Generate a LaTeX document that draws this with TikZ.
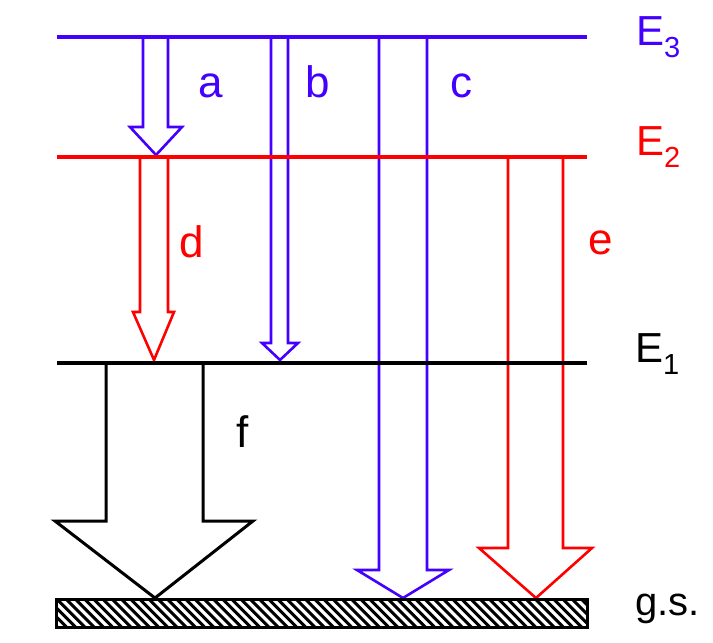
\documentclass[tikz,border=0pt]{standalone}
\usepackage{fontspec}
\setmainfont{Liberation Sans}
\definecolor{lvblue}{RGB}{68,0,255}
\definecolor{lvred}{RGB}{255,0,0}
\newcommand{\Elab}[1]{E\raisebox{-12pt}{\fontsize{29}{29}\selectfont #1}}
\tikzset{
  level/.style={line width=4.5pt},
  blockarrow/.style={line width=2.6pt, line join=miter, fill=white},
  hatchline/.style={line width=3pt},
  lbl/.style={inner sep=0pt, anchor=base west, font=\fontsize{44}{44}\selectfont},
  elbl/.style={inner sep=0pt, anchor=base west, font=\fontsize{42}{42}\selectfont},
  gslbl/.style={inner sep=0pt, anchor=base west, font=\fontsize{40}{40}\selectfont},
}
\begin{document}
\begin{tikzpicture}[x=1pt,y=-1pt]
\useasboundingbox (0,0) rectangle (713,643);
% coordinates of levels
\coordinate (e3l) at (57,37);  \coordinate (e3r) at (587,37);
\coordinate (e2l) at (57,157); \coordinate (e2r) at (587,157);
\coordinate (e1l) at (57,363); \coordinate (e1r) at (587,363);
% block arrows
\draw[blockarrow, draw=lvblue] (143,37) -- (143,127) -- (130,127) -- (156,155) -- (182,127) -- (168,127) -- (168,37);
\draw[blockarrow, draw=lvblue] (271,37) -- (271,343) -- (262,343) -- (280,360) -- (298,343) -- (288,343) -- (288,37);
\draw[blockarrow, draw=lvblue] (379,37) -- (379,570) -- (357,570) -- (403,598) -- (449,570) -- (427,570) -- (427,37);
\draw[blockarrow, draw=lvred] (140,157) -- (140,312) -- (133,312) -- (154,360) -- (174,312) -- (168,312) -- (168,157);
\draw[blockarrow, draw=lvred] (508,157) -- (508,548) -- (479,548) -- (536,598) -- (592,548) -- (563,548) -- (563,157);
\draw[blockarrow, draw=black, line width=3pt] (106,363) -- (106,521) -- (55,521) -- (155,598) -- (253,521) -- (203,521) -- (203,363);
% levels
\draw[level, draw=lvblue] (e3l) -- (e3r);
\draw[level, draw=lvred] (e2l) -- (e2r);
\draw[level, draw=black] (e1l) -- (e1r);
% ground state (hatched bar)
\begin{scope}
  \clip (56,599) rectangle (587,627);
  \foreach \hx in {20,29.2,...,600} {
    \draw[hatchline] (\hx,599) -- ++(28,28);
  }
\end{scope}
\draw[line width=3pt] (56,599) rectangle (587,627);
% labels
\node[elbl, text=lvblue] (E3) at (636,45) {\Elab{3}};
\node[elbl, text=lvred] (E2) at (636,155) {\Elab{2}};
\node[elbl, text=black] (E1) at (635,362) {\Elab{1}};
\node[gslbl] (gs) at (635,615) {g.s.};
\node[lbl, text=lvblue] (la) at (198,97) {a};
\node[lbl, text=lvblue] (lb) at (305,97) {b};
\node[lbl, text=lvblue] (lc) at (450,97) {c};
\node[lbl, text=lvred] (ld) at (179,257) {d};
\node[lbl, text=lvred] (le) at (588,254) {e};
\node[lbl, text=black] (lf) at (236,447) {f};
\end{tikzpicture}
\end{document}
